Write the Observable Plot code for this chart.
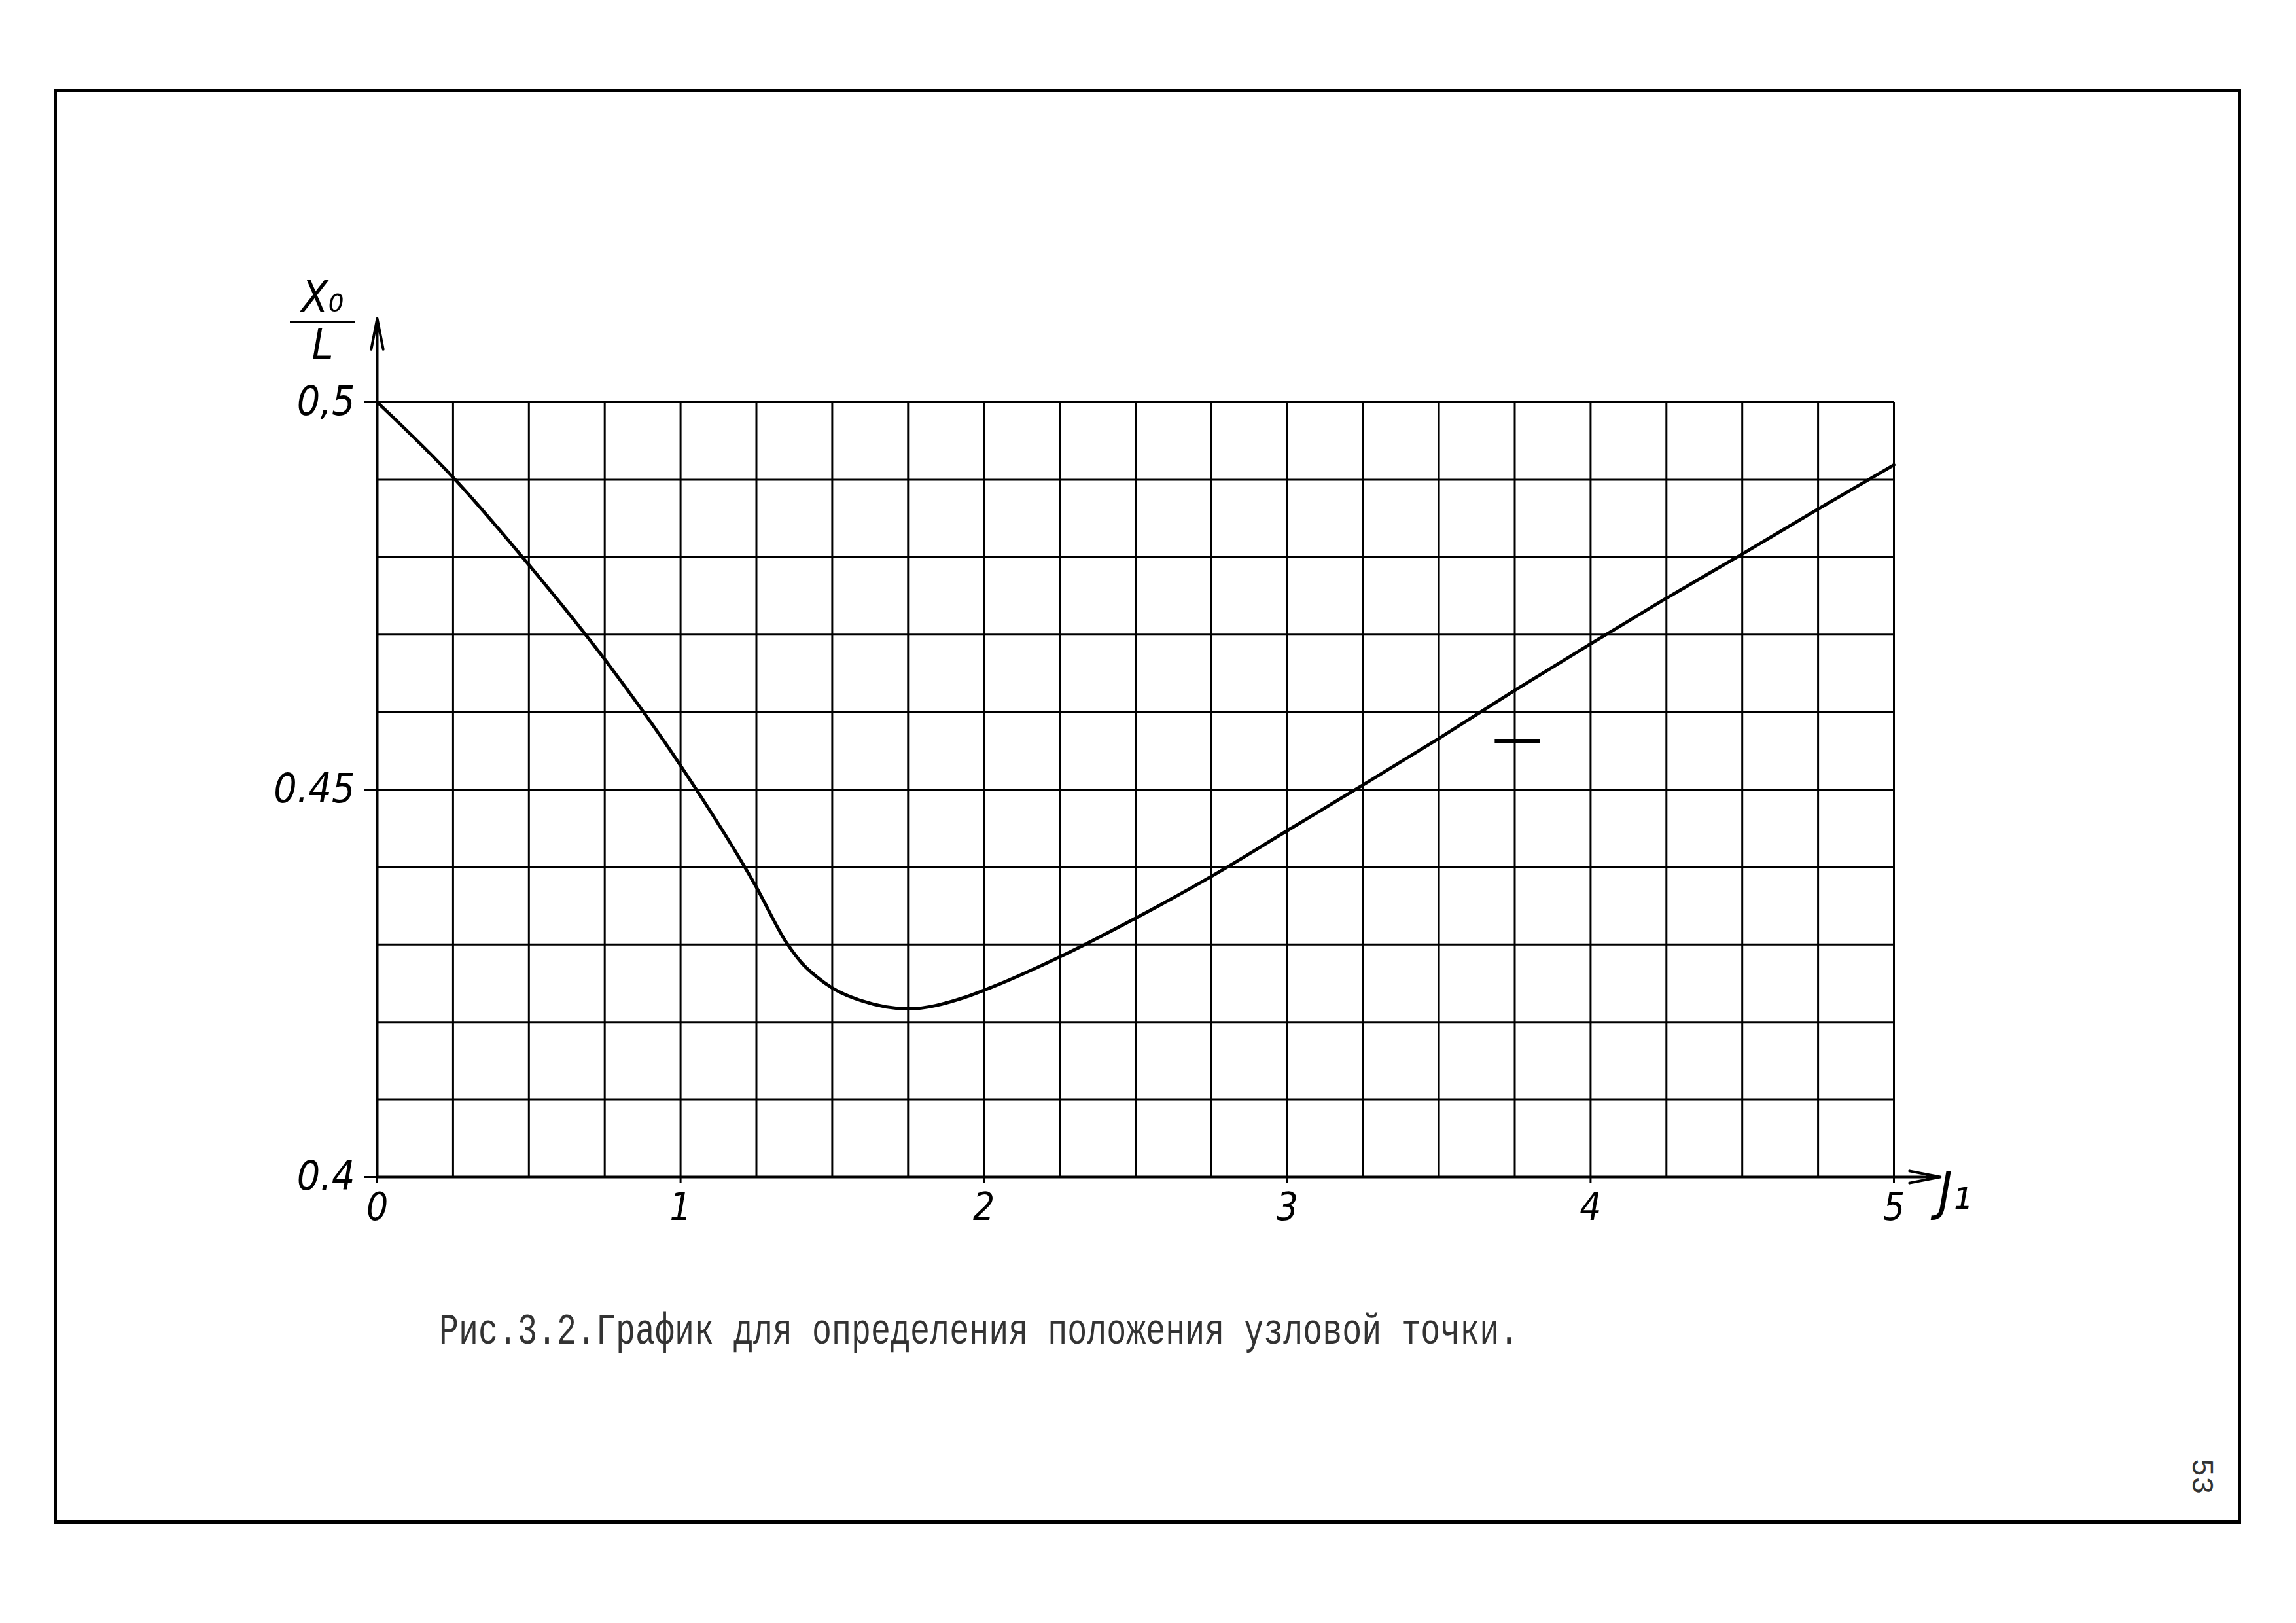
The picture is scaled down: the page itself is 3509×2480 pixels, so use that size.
<!DOCTYPE html>
<html>
<head>
<meta charset="utf-8">
<script src="https://cdn.jsdelivr.net/npm/d3@7"></script>
<script src="https://cdn.jsdelivr.net/npm/@observablehq/plot@0.6"></script>
<style>
html, body { margin: 0; padding: 0; background: #fff; }
#page { position: relative; width: 3509px; height: 2480px; overflow: hidden; background: #fff; }
#chart { position: absolute; left: 0; top: 0; }
#frame { position: absolute; left: 82px; top: 136px; width: 3333px; height: 2182px; border: 5px solid #000; }
#caption { position: absolute; left: 671px; top: 2008px; font-family: "Liberation Mono", "DejaVu Sans Mono", monospace; font-size: 50px; line-height: 54px; color: #333; white-space: pre; transform: scaleY(1.35); transform-origin: left center; }
#ytitle { position: absolute; left: 443px; top: 418px; width: 100px; text-align: center; font-family: "Liberation Sans Narrow", "DejaVu Sans Condensed", sans-serif; font-style: italic; font-size: 66px; color: #000; }
#ytitle .num { line-height: 72px; border-bottom: 4px solid #000; }
#ytitle .den { line-height: 66px; }
#pagenum { position: absolute; left: 3335px; top: 2230px; font-family: "Liberation Mono", monospace; font-size: 46px; color: #333; transform: rotate(90deg); transform-origin: center; }
</style>
</head>
<body>
<div id="page">
  <div id="chart"></div>
  <div id="frame"></div>
  <div id="ytitle"><div class="num">X₀</div><div class="den">L</div></div>
  <div id="caption">Рис.3.2.График для определения положения узловой точки.</div>
  <div id="pagenum">53</div>
</div>
<script>
// Curve values: J1 vs X0/L
const J1 = [0, 0.25, 0.5, 0.75, 1.0, 1.25, 1.35, 1.4, 1.45, 1.5, 1.6, 1.75, 1.93, 2.0, 2.25, 2.5, 2.75, 3.0, 3.25, 3.5, 3.75, 4.0, 4.25, 4.5, 4.75, 5.0];
const X0L = [0.5, 0.4903, 0.479, 0.4668, 0.4531, 0.4374, 0.4302, 0.4276, 0.4258, 0.4244, 0.4227, 0.4217, 0.4231, 0.4241, 0.4284, 0.4334, 0.4388, 0.4447, 0.4506, 0.4566, 0.4628, 0.4688, 0.4747, 0.4804, 0.4862, 0.4919];

// Grid lines
const gridJ = [0, 0.25, 0.5, 0.75, 1, 1.25, 1.5, 1.75, 2, 2.25, 2.5, 2.75, 3, 3.25, 3.5, 3.75, 4, 4.25, 4.5, 4.75, 5];
const gridV = [0.4, 0.41, 0.42, 0.43, 0.44, 0.45, 0.46, 0.47, 0.48, 0.49, 0.5];

// Tick labels
const xTicks = [0, 1, 2, 3, 4, 5];
const xTickLabels = ["0", "1", "2", "3", "4", "5"];
const yTicks = [0.4, 0.45, 0.5];
const yTickLabels = ["0.4", "0.45", "0,5"];

// Axis arrow ends (data units) and stray pen mark
const axisEndJ = [5.153];
const axisEndV = [0.5108];
const strayJ1 = [3.685];
const strayJ2 = [3.834];
const strayV = [0.4563];

const curve = J1.map((j, i) => ({J: j, v: X0L[i]}));
const yLab = new Map(yTicks.map((t, i) => [t, yTickLabels[i]]));
const xLab = new Map(xTicks.map((t, i) => [t, xTickLabels[i]]));
const arrows = [
  {x1: 0, y1: 0.4, x2: axisEndJ[0], y2: 0.4},
  {x1: 0, y1: 0.4, x2: 0, y2: axisEndV[0]}
];
const stray = strayV.map((v, i) => ({v, a: strayJ1[i], b: strayJ2[i]}));

const handFont = "Liberation Sans Narrow, DejaVu Sans Condensed, sans-serif";

const chart = Plot.plot({
  width: 3509,
  height: 2480,
  marginLeft: 576,
  marginRight: 615,
  marginTop: 614,
  marginBottom: 682,
  style: {background: "transparent", color: "#000", overflow: "visible"},
  x: {domain: [0, 5]},
  y: {domain: [0.4, 0.5]},
  marks: [
    Plot.ruleX(gridJ, {x: d => d, y1: 0.4, y2: 0.5, stroke: "#000", strokeWidth: 3}),
    Plot.ruleY(gridV, {y: d => d, x1: 0, x2: 5, stroke: "#000", strokeWidth: 3}),
    Plot.arrow(arrows, {x1: "x1", y1: "y1", x2: "x2", y2: "y2", stroke: "#000", strokeWidth: 4, headLength: 18, headAngle: 22}),
    Plot.axisY(yTicks, {
      tickSize: 20, tickPadding: 14, strokeWidth: 3,
      tickFormat: d => yLab.get(d),
      fontSize: 62, fontStyle: "italic", fontFamily: handFont, fill: "#000", label: null
    }),
    Plot.axisX(xTicks, {
      tickSize: 10, tickPadding: 14, strokeWidth: 3,
      tickFormat: d => xLab.get(d),
      fontSize: 58, fontStyle: "italic", fontFamily: handFont, fill: "#000", label: null
    }),
    Plot.line(curve, {x: "J", y: "v", curve: "monotone-x", stroke: "#000", strokeWidth: 5}),
    Plot.ruleY(stray, {y: "v", x1: "a", x2: "b", stroke: "#000", strokeWidth: 6}),
    Plot.text(["J₁"], {text: d => d, frameAnchor: "bottom-right", dx: 118, dy: 48, fontSize: 80, fontStyle: "italic", fontFamily: handFont, fill: "#000"})
  ]
});
document.getElementById("chart").appendChild(chart);
</script>
</body>
</html>
